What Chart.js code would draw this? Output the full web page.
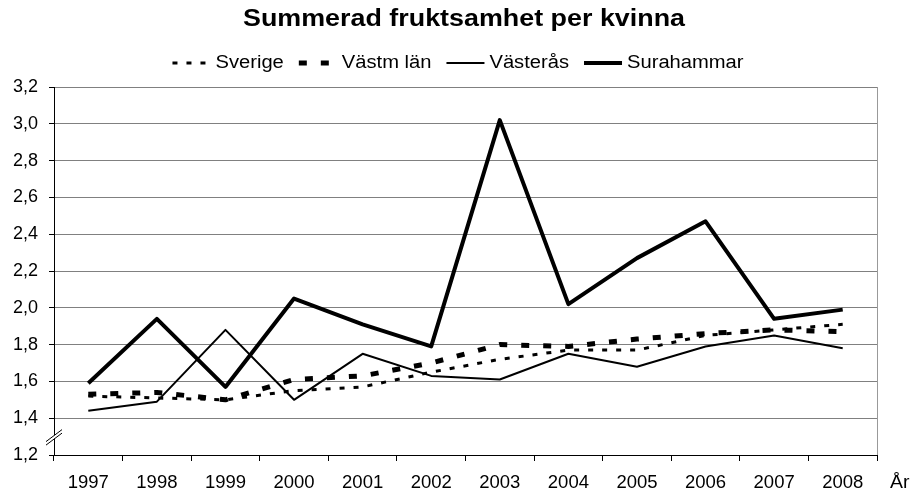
<!DOCTYPE html>
<html>
<head>
<meta charset="utf-8">
<script src="https://cdn.jsdelivr.net/npm/chart.js@4.4.1/dist/chart.umd.min.js"></script>
<style>
  html, body { margin: 0; padding: 0; background: #fff; }
  #wrap { width: 913px; height: 495px; }
</style>
</head>
<body>
<div id="wrap"><canvas id="chart" width="913" height="495"></canvas></div>
<script>
// ========================================
// Data
// ========================================
const years = ['1997', '1998', '1999', '2000', '2001', '2002', '2003', '2004', '2005', '2006', '2007', '2008'];
const sverige    = [1.52, 1.51, 1.50, 1.55, 1.57, 1.65, 1.72, 1.77, 1.77, 1.85, 1.88, 1.91];
const vastmLan   = [1.53, 1.54, 1.50, 1.61, 1.63, 1.70, 1.80, 1.79, 1.83, 1.86, 1.88, 1.87];
const vasteras   = [1.44, 1.49, 1.88, 1.50, 1.75, 1.63, 1.61, 1.75, 1.68, 1.79, 1.85, 1.78];
const surahammar = [1.59, 1.94, 1.57, 2.05, 1.91, 1.79, 3.02, 2.02, 2.27, 2.47, 1.94, 1.99];
const yMin = 1.2;
const yMax = 3.2;
const yStep = 0.2;

const FONT = '"Liberation Sans", Arial, sans-serif';

// text drawn a little wider than the font, like the original
function stretchedText(ctx, text, x, y, sx) {
  ctx.save();
  ctx.translate(x, y);
  ctx.scale(sx, 1);
  ctx.fillText(text, 0, 0);
  ctx.restore();
}

// ========================================
// Extra drawing: title, legend, axis break, "År"
// ========================================
const decorations = {
  id: 'decorations',
  afterDraw(chart) {
    const ctx = chart.ctx;
    const area = chart.chartArea;
    ctx.save();

    // right border of the plot area
    ctx.strokeStyle = '#999';
    ctx.lineWidth = 1;
    ctx.beginPath();
    ctx.moveTo(area.right + 0.5, area.top);
    ctx.lineTo(area.right + 0.5, area.bottom);
    ctx.stroke();

    // title
    const title = 'Summerad fruktsamhet per kvinna';
    ctx.fillStyle = '#000';
    ctx.font = 'bold 23px ' + FONT;
    ctx.textAlign = 'center';
    ctx.textBaseline = 'middle';
    const tScale = 442 / ctx.measureText(title).width;
    stretchedText(ctx, title, 464, 20, tScale);

    // legend
    ctx.font = '18px ' + FONT;
    ctx.textAlign = 'left';
    const sx = 1.12;
    const markerW = 38;
    const gap = 5;
    const spacing = 15;
    const items = chart.data.datasets;
    let total = 0;
    items.forEach((ds, i) => {
      total += markerW + gap + ctx.measureText(ds.label).width * sx;
      if (i < items.length - 1) total += spacing;
    });
    let x = 458 - total / 2;
    const ly = 63;
    items.forEach(ds => {
      ctx.strokeStyle = '#000';
      ctx.lineWidth = ds.borderWidth;
      ctx.setLineDash(ds.borderDash || []);
      ctx.beginPath();
      ctx.moveTo(x, ly);
      ctx.lineTo(x + markerW, ly);
      ctx.stroke();
      ctx.setLineDash([]);
      x += markerW + gap;
      stretchedText(ctx, ds.label, x, ly, sx);
      x += ctx.measureText(ds.label).width * sx + spacing;
    });

    // axis break marks
    const yb = chart.scales.y.getPixelForValue(1.3);
    const ax = area.left;
    ctx.fillStyle = '#fff';
    ctx.beginPath();
    ctx.moveTo(ax - 8, yb + 5);
    ctx.lineTo(ax + 8, yb - 7);
    ctx.lineTo(ax + 8, yb - 3.5);
    ctx.lineTo(ax - 8, yb + 8.5);
    ctx.closePath();
    ctx.fill();
    ctx.strokeStyle = '#000';
    ctx.lineWidth = 1;
    ctx.beginPath();
    ctx.moveTo(ax - 8, yb + 5);
    ctx.lineTo(ax + 8, yb - 7);
    ctx.moveTo(ax - 8, yb + 8.5);
    ctx.lineTo(ax + 8, yb - 3.5);
    ctx.stroke();

    // x axis unit label
    ctx.fillStyle = '#000';
    ctx.font = '18px ' + FONT;
    ctx.textAlign = 'left';
    ctx.textBaseline = 'middle';
    stretchedText(ctx, 'År', area.right + 13, 483, 1.08);

    ctx.restore();
  }
};

new Chart(document.getElementById('chart'), {
  type: 'line',
  data: {
    labels: years,
    datasets: [
      { label: 'Sverige', data: sverige, borderColor: '#000', borderWidth: 3, borderDash: [5, 9] },
      { label: 'Västm län', data: vastmLan, borderColor: '#000', borderWidth: 5, borderDash: [8, 14] },
      { label: 'Västerås', data: vasteras, borderColor: '#000', borderWidth: 2 },
      { label: 'Surahammar', data: surahammar, borderColor: '#000', borderWidth: 4 }
    ]
  },
  options: {
    responsive: false,
    devicePixelRatio: 1,
    animation: false,
    layout: { padding: { top: 87, right: 36, left: 0, bottom: 0 } },
    elements: {
      point: { radius: 0, hoverRadius: 0 },
      line: { tension: 0, borderJoinStyle: 'round', fill: false }
    },
    plugins: {
      legend: { display: false },
      title: { display: false },
      tooltip: { enabled: false }
    },
    scales: {
      x: {
        offset: true,
        grid: { offset: true, drawOnChartArea: false, drawTicks: true, tickLength: 6, tickColor: '#000' },
        border: { color: '#000', width: 1 },
        ticks: { color: '#000', font: { family: FONT, size: 18.5 }, padding: 11, maxRotation: 0, autoSkip: false },
        afterFit(scale) { scale.height = 40; }
      },
      y: {
        min: yMin,
        max: yMax,
        grid: { color: '#808080', tickLength: 5, tickColor: '#000' },
        border: { color: '#000', width: 1 },
        ticks: {
          stepSize: yStep,
          color: '#000',
          padding: 11,
          font: { family: FONT, size: 18 },
          callback: v => v.toFixed(1).replace('.', ',')
        },
        afterFit(scale) { scale.width = 54; }
      }
    }
  },
  plugins: [decorations]
});
</script>
</body>
</html>
